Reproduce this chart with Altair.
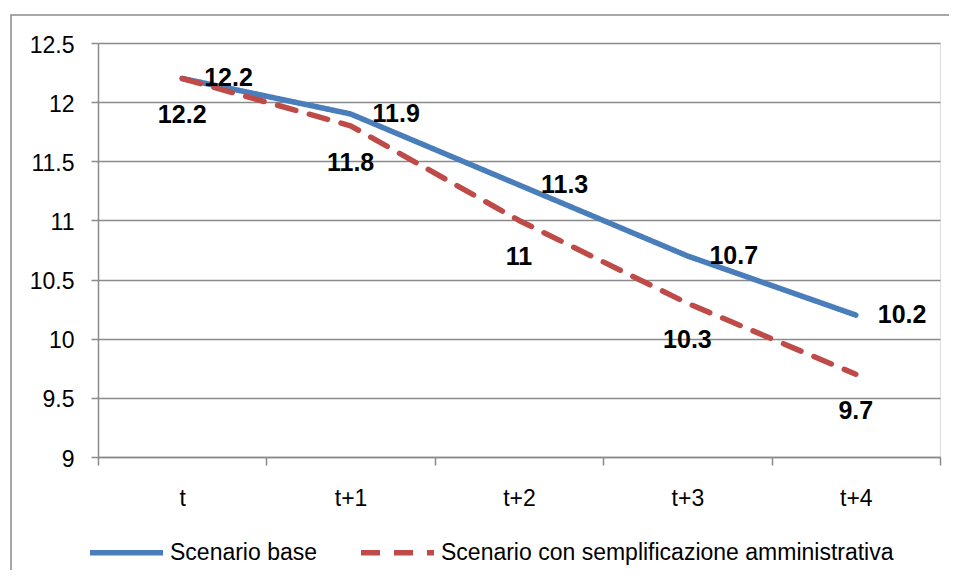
import altair as alt
import pandas as pd

periods = ["t", "t+1", "t+2", "t+3", "t+4"]
base = [12.2, 11.9, 11.3, 10.7, 10.2]
sempl = [12.2, 11.8, 11.0, 10.3, 9.7]
series = ["Scenario base", "Scenario con semplificazione amministrativa"]
y_ticks = [9, 9.5, 10, 10.5, 11, 11.5, 12, 12.5]

rows = []
for p, v in zip(periods, base):
    rows.append({"periodo": p, "valore": v, "serie": series[0]})
for p, v in zip(periods, sempl):
    rows.append({"periodo": p, "valore": v, "serie": series[1]})
df = pd.DataFrame(rows)

FONT = "Liberation Sans"
GRID = "#8a8a8a"
BLUE = "#4A7EBB"
RED = "#BE4B48"

x_enc = alt.X(
    "periodo:N",
    sort=periods,
    title=None,
    bandPosition=0.5,
    scale=alt.Scale(type="band", paddingInner=0, paddingOuter=0),
    axis=alt.Axis(
        tickBand="extent", labelAngle=0, grid=False, domainColor=GRID,
        domainWidth=1.5, tickColor=GRID, tickWidth=1.5, tickSize=8,
        labelPadding=22, labelFont=FONT, labelFontSize=23, labelColor="black",
    ),
)
y_enc = alt.Y(
    "valore:Q",
    title=None,
    scale=alt.Scale(domain=[9, 12.5], nice=False, zero=False),
    axis=alt.Axis(
        values=y_ticks, format="~g", grid=True, gridColor=GRID, gridWidth=1.5,
        domainColor=GRID, domainWidth=1.5, tickColor=GRID, tickWidth=1.5,
        tickSize=7, labelPadding=17, labelFont=FONT, labelFontSize=23,
        labelColor="black", labelOffset=2,
    ),
)

border = alt.Chart(pd.DataFrame({"k": [0]})).mark_rect(
    fill=None, stroke=GRID, strokeWidth=1.5
).encode(
    x=alt.value(-87), x2=alt.value(900), y=alt.value(-28), y2=alt.value(600)
)

legend = alt.Legend(
    orient="none", legendX=-11, legendY=470, direction="horizontal",
    title=None, symbolType="stroke", symbolSize=5329,
    symbolStrokeWidth=5.5, labelFont=FONT, labelFontSize=23,
    labelColor="black", labelOffset=4, columnPadding=32, padding=0,
    labelLimit=0,
)

lines = alt.Chart(df).mark_line(strokeWidth=5.5, strokeCap="round", strokeJoin="round").encode(
    x=x_enc,
    y=y_enc,
    color=alt.Color(
        "serie:N", sort=series,
        scale=alt.Scale(domain=series, range=[BLUE, RED]),
        legend=legend,
    ),
    strokeDash=alt.StrokeDash(
        "serie:N", sort=series,
        scale=alt.Scale(domain=series, range=[[1, 0], [19, 14]]),
        legend=legend,
    ),
    order=alt.Order("serie:N"),
)

lab_base = alt.Chart(df[df["serie"] == series[0]]).mark_text(
    align="left", baseline="middle", dx=22, fontWeight="bold",
    font=FONT, fontSize=25, color="black"
).encode(x=x_enc, y=y_enc, text=alt.Text("valore:Q", format="~g"))

lab_sempl = alt.Chart(df[df["serie"] == series[1]]).mark_text(
    align="center", baseline="middle", dy=37, fontWeight="bold",
    font=FONT, fontSize=25, color="black"
).encode(x=x_enc, y=y_enc, text=alt.Text("valore:Q", format="~g"))

chart = alt.layer(border, lines, lab_base, lab_sempl).properties(
    width=842, height=414,
    autosize=alt.AutoSizeParams(type="none"),
    padding={"left": 90, "top": 35, "right": 9, "bottom": 113},
).configure_view(stroke=None).configure(background="white")

chart.save("out.html", embed_options={"renderer": "svg", "actions": False})
